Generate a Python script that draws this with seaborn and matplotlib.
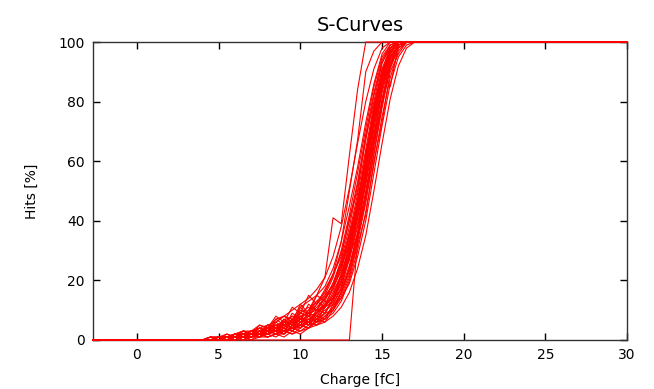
import matplotlib
matplotlib.use("Agg")
import matplotlib.pyplot as plt
import pandas as pd
import seaborn as sns

# charge grid in fC (shared by all curves)
charge = [-2.7, 3.0, 3.5, 4.0, 4.5, 5.0, 5.5, 6.0, 6.5, 7.0, 7.5, 8.0, 8.5, 9.0, 9.5,
          10.0, 10.5, 11.0, 11.5, 12.0, 12.5, 13.0, 13.5, 14.0, 14.5, 15.0, 15.5,
          16.0, 16.5, 17.0, 30.0]

# hit efficiency [%] for each channel
c01 = [0, 0, 0, 0, 0, 1, 0, 1, 1, 2, 1, 2, 3, 2, 4, 5, 4, 7, 9, 14, 20, 30, 42, 57, 73, 87, 96, 100, 100, 100, 100]
c02 = [0, 0, 0, 0, 0, 0, 1, 0, 1, 1, 2, 1, 2, 3, 2, 4, 6, 5, 8, 11, 16, 24, 35, 49, 65, 80, 92, 98, 100, 100, 100]
c03 = [0, 0, 0, 0, 1, 0, 1, 2, 1, 3, 2, 4, 3, 5, 6, 5, 9, 10, 14, 19, 27, 38, 52, 67, 82, 93, 99, 100, 100, 100, 100]
c04 = [0, 0, 0, 0, 0, 0, 0, 1, 0, 1, 1, 2, 1, 3, 2, 3, 4, 6, 7, 9, 13, 20, 30, 43, 59, 75, 88, 97, 100, 100, 100]
c05 = [0, 0, 0, 0, 0, 1, 1, 0, 2, 1, 3, 2, 5, 3, 7, 4, 8, 6, 11, 13, 22, 27, 41, 53, 71, 86, 95, 99, 100, 100, 100]
c06 = [0, 0, 0, 0, 0, 0, 1, 1, 2, 1, 2, 3, 2, 6, 4, 8, 6, 9, 12, 17, 24, 33, 46, 61, 77, 90, 98, 100, 100, 100, 100]
c07 = [0, 0, 0, 0, 1, 0, 0, 1, 1, 2, 1, 3, 4, 2, 5, 7, 5, 8, 10, 12, 18, 27, 38, 52, 68, 83, 94, 99, 100, 100, 100]
c08 = [0, 0, 0, 0, 0, 1, 0, 2, 1, 3, 4, 2, 6, 4, 9, 7, 12, 10, 15, 18, 26, 36, 49, 64, 79, 91, 98, 100, 100, 100, 100]
c09 = [0, 0, 0, 0, 0, 0, 1, 0, 1, 0, 2, 1, 2, 4, 3, 5, 4, 7, 6, 10, 15, 22, 33, 46, 62, 78, 91, 98, 100, 100, 100]
c10 = [0, 0, 0, 0, 0, 1, 1, 1, 2, 2, 1, 4, 3, 5, 3, 6, 8, 7, 11, 15, 21, 31, 43, 58, 74, 88, 96, 100, 100, 100, 100]
c11 = [0, 0, 0, 0, 0, 0, 0, 1, 0, 1, 2, 1, 2, 3, 4, 3, 5, 6, 8, 10, 14, 19, 28, 40, 56, 72, 86, 95, 99, 100, 100]
c12 = [0, 0, 0, 0, 0, 0, 1, 2, 1, 2, 3, 2, 4, 3, 6, 8, 5, 9, 12, 14, 19, 29, 41, 55, 71, 85, 95, 99, 100, 100, 100]
c13 = [0, 0, 0, 0, 1, 1, 0, 1, 3, 2, 2, 5, 3, 7, 5, 11, 8, 9, 13, 12, 17, 25, 36, 50, 66, 81, 93, 99, 100, 100, 100]
c14 = [0, 0, 0, 0, 0, 1, 2, 1, 2, 3, 2, 4, 5, 4, 7, 9, 8, 12, 15, 21, 30, 42, 56, 71, 85, 95, 99, 100, 100, 100, 100]
c15 = [0, 0, 0, 0, 0, 0, 0, 1, 1, 1, 2, 2, 3, 3, 4, 5, 6, 7, 9, 13, 19, 28, 39, 53, 69, 84, 95, 99, 100, 100, 100]
c16 = [0, 0, 0, 0, 0, 1, 1, 2, 3, 2, 4, 3, 7, 5, 6, 12, 9, 15, 13, 19, 25, 34, 47, 62, 78, 90, 97, 100, 100, 100, 100]
c17 = [0, 0, 0, 0, 0, 0, 1, 1, 0, 2, 1, 3, 2, 2, 4, 4, 6, 5, 7, 11, 16, 23, 34, 47, 63, 79, 92, 98, 100, 100, 100]
c18 = [0, 0, 0, 0, 0, 0, 1, 0, 2, 1, 3, 2, 4, 6, 4, 7, 6, 10, 11, 16, 22, 31, 44, 58, 74, 88, 97, 100, 100, 100, 100]
c19 = [0, 0, 0, 0, 0, 0, 0, 0, 1, 0, 1, 1, 2, 1, 3, 2, 4, 5, 6, 8, 11, 16, 24, 35, 50, 66, 81, 92, 98, 100, 100]
c20 = [0, 0, 0, 0, 1, 1, 0, 2, 2, 3, 3, 5, 4, 6, 8, 7, 10, 13, 16, 22, 29, 40, 53, 69, 83, 94, 99, 100, 100, 100, 100]
c21 = [0, 0, 0, 0, 0, 1, 0, 1, 2, 2, 3, 4, 3, 6, 5, 9, 8, 11, 14, 19, 26, 35, 47, 60, 76, 89, 97, 100, 100, 100, 100]
c22 = [0, 0, 0, 0, 0, 0, 1, 1, 3, 2, 4, 3, 6, 8, 6, 10, 9, 13, 11, 18, 23, 36, 44, 63, 75, 91, 96, 100, 100, 100, 100]
c23 = [0, 0, 0, 0, 0, 0, 0, 1, 1, 2, 2, 4, 3, 5, 7, 6, 9, 8, 12, 14, 17, 29, 35, 55, 66, 86, 92, 100, 100, 100, 100]
c24 = [0, 0, 0, 0, 0, 1, 1, 2, 2, 3, 4, 5, 6, 8, 7, 11, 13, 15, 18, 24, 33, 45, 58, 73, 86, 96, 100, 100, 100, 100, 100]
c25 = [0, 0, 0, 0, 0, 0, 0, 0, 1, 1, 2, 2, 3, 4, 3, 6, 5, 8, 7, 12, 14, 21, 32, 42, 60, 73, 90, 96, 100, 100, 100]
c26 = [0, 0, 0, 0, 1, 0, 2, 1, 3, 2, 5, 4, 8, 6, 11, 9, 15, 12, 17, 22, 28, 41, 50, 68, 80, 93, 98, 100, 100, 100, 100]
c27 = [0, 0, 0, 0, 0, 0, 1, 1, 1, 2, 3, 2, 4, 5, 4, 7, 6, 10, 9, 14, 20, 30, 43, 56, 73, 86, 96, 100, 100, 100, 100]
c28 = [0, 0, 0, 0, 0, 0, 0, 1, 0, 1, 2, 2, 3, 2, 5, 4, 7, 6, 9, 10, 16, 24, 36, 48, 66, 80, 94, 99, 100, 100, 100]
c29 = [0, 0, 0, 0, 0, 1, 1, 2, 3, 3, 5, 4, 7, 8, 10, 12, 14, 17, 21, 28, 38, 51, 66, 80, 91, 98, 100, 100, 100, 100, 100]
c30 = [0, 0, 0, 0, 0, 1, 0, 1, 2, 3, 2, 5, 4, 7, 5, 9, 11, 10, 14, 17, 25, 32, 47, 59, 78, 88, 98, 100, 100, 100, 100]
# odd channels
o01 = [0, 0, 0, 0, 0, 1, 1, 2, 1, 3, 2, 4, 5, 6, 8, 7, 10, 15, 21, 41, 39, 62, 84, 100, 100, 100, 100, 100, 100, 100, 100]
o02 = [0, 0, 0, 0, 0, 0, 0, 0, 0, 0, 0, 0, 0, 0, 0, 0, 0, 0, 0, 0, 0, 0, 33, 58, 75, 89, 97, 100, 100, 100, 100]
o03 = [0, 0, 0, 0, 0, 1, 0, 1, 2, 2, 3, 4, 3, 6, 5, 8, 9, 12, 16, 22, 33, 50, 67, 90, 97, 100, 100, 100, 100, 100, 100]
o04 = [0, 0, 0, 0, 0, 0, 1, 1, 2, 1, 3, 2, 3, 5, 4, 6, 7, 9, 11, 15, 22, 32, 45, 60, 76, 90, 85, 99, 100, 100, 100]

curves = {"c01": c01, "c02": c02, "c03": c03, "c04": c04, "c05": c05, "c06": c06,
          "c07": c07, "c08": c08, "c09": c09, "c10": c10, "c11": c11, "c12": c12,
          "c13": c13, "c14": c14, "c15": c15, "c16": c16, "c17": c17, "c18": c18,
          "c19": c19, "c20": c20, "c21": c21, "c22": c22, "c23": c23, "c24": c24,
          "c25": c25, "c26": c26, "c27": c27, "c28": c28, "c29": c29, "c30": c30,
          "o01": o01, "o02": o02, "o03": o03, "o04": o04}

rows = []
for name, hits in curves.items():
    assert len(hits) == len(charge), name
    for q, h in zip(charge, hits):
        rows.append({"channel": name, "charge": q, "hits": h})
df = pd.DataFrame(rows)

sns.set_style("ticks")
plt.rcParams["font.family"] = ["DejaVu Sans"]
plt.rcParams["text.color"] = "black"
plt.rcParams["axes.labelcolor"] = "black"

fig = plt.figure(figsize=(6.54, 3.89), dpi=100)
ax = fig.add_axes([0.142, 0.126, 0.817, 0.766])

sns.lineplot(data=df, x="charge", y="hits", units="channel", estimator=None,
             color="#ff0000", linewidth=0.8, ax=ax, legend=False, zorder=3)
for ln in ax.lines:
    ln.set_clip_on(False)

ax.set_xlim(-2.7, 30)
ax.set_ylim(0, 100)
ax.set_xticks([0, 5, 10, 15, 20, 25, 30])
ax.set_yticks([0, 20, 40, 60, 80, 100])
ax.tick_params(direction="in", length=5, width=1, top=True, right=True,
               labelsize=10, colors="black", pad=6)
for sp in ax.spines.values():
    sp.set_visible(True)
    sp.set_linewidth(1)
    sp.set_color("#333333")

ax.set_title("S-Curves", fontsize=14, pad=8, color="black")
ax.set_xlabel("Charge [fC]", fontsize=10, labelpad=8)
ax.set_ylabel("Hits [%]", fontsize=10, labelpad=14)

fig.savefig("out.png", dpi=100)
